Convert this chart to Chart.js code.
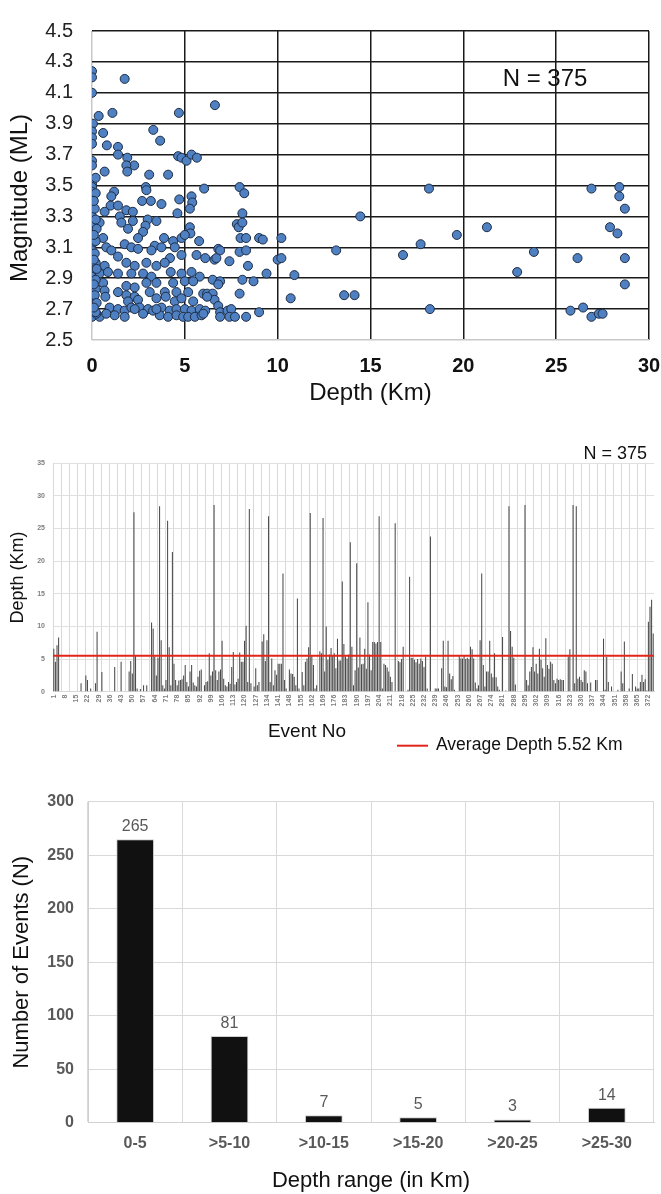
<!DOCTYPE html>
<html>
<head>
<meta charset="utf-8">
<script src="https://cdn.jsdelivr.net/npm/chart.js@4.4.1/dist/chart.umd.min.js"></script>
<style>
  body { margin: 0; background: #fff; }
  #wrap { position: relative; width: 661px; height: 1194px; }
  canvas { position: absolute; left: 0; }
</style>
</head>
<body>
<div id="wrap">
  <canvas id="scatterChart" width="661" height="420" style="top:0"></canvas>
  <canvas id="eventChart" width="661" height="350" style="top:420px"></canvas>
  <canvas id="rangeChart" width="661" height="424" style="top:770px"></canvas>
</div>
<script>
// Magnitude vs depth, [depth km, magnitude ML]
const quakes = [
  [0,4.24],[0,4.20],[1.76,4.19],[0,4.10],[0.36,3.95],[1.1,3.97],[4.68,3.97],[0.05,3.90],[0,3.85],[0.6,3.84],
  [0,3.81],[3.3,3.86],[3.67,3.79],[0,3.77],[0.8,3.76],[1.4,3.75],[1.4,3.70],[1.9,3.68],[2.27,3.63],[1.85,3.63],
  [1.9,3.59],[0,3.66],[0,3.63],[0.68,3.59],[4.64,3.69],[4.82,3.68],[5.09,3.66],[5.36,3.70],[5.65,3.68],[3.08,3.57],
  [4.1,3.57],[0,3.51],[0,3.49],[6.04,3.48],[2.9,3.49],[2.93,3.47],[1.19,3.46],[1.04,3.43],[0,3.46],[0,3.42],
  [2.7,3.40],[3.17,3.40],[3.74,3.38],[4.7,3.41],[5.36,3.43],[5.4,3.39],[5.27,3.35],[4.6,3.32],[1.0,3.37],[1.4,3.37],
  [1.85,3.34],[2.2,3.33],[0.68,3.33],[0,3.37],[0,3.34],[0,3.30],[1.5,3.30],[1.58,3.26],[2.2,3.27],[3.0,3.28],
  [3.47,3.27],[1.94,3.22],[0.41,3.26],[0,3.24],[0,3.20],[2.88,3.24],[2.75,3.20],[2.48,3.16],[5.27,3.23],[5.3,3.19],
  [0,3.16],[0.6,3.16],[0,3.12],[0,3.08],[0.77,3.10],[1.04,3.08],[1.76,3.12],[2.12,3.10],[2.48,3.09],[3.38,3.11],
  [3.88,3.16],[4.37,3.14],[4.82,3.16],[5.0,3.18],[5.77,3.14],[4.46,3.10],[3.74,3.10],[3.2,3.08],[4.2,3.03],[4.82,3.05],
  [5.63,3.05],[1.4,3.04],[1.85,3.00],[2.3,2.98],[2.93,3.00],[3.47,2.98],[3.92,3.00],[0,3.04],[0,2.98],[0,2.94],
  [0,2.91],[0.68,2.98],[0.41,2.93],[0.86,2.94],[1.4,2.93],[2.12,2.93],[2.75,2.93],[3.2,2.91],[4.24,2.94],[4.82,2.93],
  [5.36,2.94],[5.8,2.91],[0.6,2.87],[0,2.87],[0,2.84],[0,2.81],[0,2.77],[0,2.73],[0,2.70],[0,2.67],
  [0,2.65],[1.85,2.85],[2.3,2.84],[2.93,2.87],[3.47,2.87],[4.37,2.87],[5.0,2.88],[5.45,2.88],[0.68,2.82],[0.72,2.78],
  [1.4,2.81],[1.85,2.79],[2.3,2.78],[3.11,2.81],[3.92,2.81],[4.55,2.81],[5.18,2.81],[5.99,2.80],[1.94,2.75],[2.48,2.76],
  [3.47,2.77],[3.97,2.78],[4.46,2.75],[4.82,2.77],[5.45,2.75],[0.95,2.71],[1.4,2.70],[1.76,2.69],[2.12,2.71],[2.57,2.71],
  [3.02,2.70],[3.29,2.69],[3.74,2.71],[4.18,2.69],[4.55,2.70],[5.0,2.70],[5.36,2.69],[5.8,2.70],[0.41,2.65],[1.22,2.66],
  [1.76,2.65],[2.75,2.67],[3.65,2.66],[4.1,2.65],[4.55,2.66],[4.91,2.65],[5.18,2.65],[5.54,2.65],[5.9,2.66],[0.77,2.67],
  [0.23,2.67],[2.3,2.70],[3.47,2.70],
  [0.2,3.55],[0.2,3.45],[0.15,3.35],[0.2,3.28],[0.25,3.22],[0.2,3.14],[0.15,3.06],[0.2,3.00],[0.25,2.96],[0.2,2.89],
  [0.2,2.83],[0.15,2.79],[0.25,2.74],[0.2,2.68],[0.1,3.40],[0.1,3.18],[0.1,3.02],[0.1,2.86],[0.1,2.71],
  [6.62,4.02],[7.95,3.49],[8.2,3.45],[8.1,3.32],[7.8,3.25],[7.9,3.23],[8.1,3.26],[8.0,3.16],[8.3,3.16],[9.0,3.16],
  [9.2,3.15],[10.2,3.16],[6.8,3.09],[6.9,3.08],[6.1,3.03],[6.6,3.02],[6.7,3.03],[7.4,3.01],[7.95,3.07],[8.3,3.08],
  [8.4,2.98],[9.4,2.93],[10.0,3.02],[10.2,3.03],[10.9,2.92],[10.7,2.77],[6.5,2.89],[6.9,2.88],[6.8,2.86],[8.1,2.89],
  [8.7,2.88],[7.95,2.80],[6.2,2.80],[6.5,2.80],[6.6,2.76],[6.2,2.78],[6.8,2.72],[6.1,2.69],[6.9,2.68],[6.9,2.65],
  [7.3,2.69],[7.5,2.70],[7.4,2.65],[7.7,2.65],[8.3,2.65],[9.0,2.68],[6.0,2.67],
  [13.15,3.08],[13.58,2.79],[14.14,2.79],[14.45,3.30],[16.75,3.05],[17.7,3.12],[18.15,3.48],[18.2,2.70],[19.65,3.18],[21.27,3.23],
  [22.9,2.94],[23.8,3.07],[25.77,2.69],[26.15,3.03],[26.45,2.71],[26.9,3.48],[26.9,2.65],[27.3,2.67],[27.5,2.67],[27.9,3.23],
  [28.3,3.19],[28.4,3.49],[28.4,3.43],[28.7,3.35],[28.7,3.03],[28.7,2.86]
];

// Depth of each event, in event order (km)
const depthPerEvent = [
  6.6,4.6,7.1,8.3,0,0,0,0,0,0,0,0,0,0,0,0,0,1.3,0,0,2.5,1.8,0,0.5,0,
  0,1.3,9.2,0,0,3.0,0,0,0,0,0,0,0,3.8,0,0,0,4.6,0,0,0,0,3.1,4.7,2.8,
  27.5,5.6,0.5,0,0.4,0,1.0,0,1.0,0,0,10.6,9.7,5.4,2.5,5.2,28.4,7.9,1.0,0.5,1.8,26.2,6.8,1.0,21.4,
  4.3,1.8,1.0,1.7,1.8,1.9,2.5,4.1,1.5,0.8,3.1,4.1,1.4,1.0,0.8,2.3,3.2,3.4,0,1.0,1.5,1.6,5.9,2.5,3.1,
  28.6,3.3,1.8,3.1,3.4,7.8,2.0,1.0,0.8,1.5,1.2,3.8,6.1,1.1,1.5,2.0,6.0,4.6,4.6,7.8,10.1,1.5,28.0,1.3,0,
  0.8,3.6,1.0,1.5,0,7.7,8.8,4.7,7.9,26.9,1.5,5.1,1.0,3.3,2.6,4.3,4.3,4.3,18.1,1.8,0.5,0,3.4,2.8,2.7,
  2.3,1.0,14.3,0.5,0,3.0,1.0,4.6,5.1,6.8,27.4,5.6,4.1,0.5,1.0,0,6.2,5.9,26.6,3.1,10.0,4.9,5.7,6.7,5.6,
  5.9,3.6,8.1,4.8,4.8,16.9,7.3,5.4,5.1,5.7,22.9,6.9,1.0,3.3,19.7,3.7,8.3,4.2,4.3,6.6,3.5,13.7,5.7,3.3,7.6,
  7.6,7.4,7.6,26.9,7.6,0.5,4.3,4.1,3.7,3.1,2.3,1.5,0,25.8,0,4.7,4.5,5.0,6.9,0,0,0.3,17.6,5.2,5.2,
  4.9,4.5,5.0,4.3,5.1,4.7,3.8,5.4,0.5,0,23.8,0,0,0.5,0.5,0.5,0,3.6,7.8,0.8,0.7,7.8,2.8,1.9,2.4,
  0.3,0,0,5.6,5.1,5.1,5.6,5.0,5.2,5.0,6.9,6.5,5.1,1.4,0.5,1.0,7.9,18.1,4.1,0.8,3.1,3.1,7.8,2.8,2.2,
  5.9,2.2,0.8,0.3,0,8.4,0,0.2,0,28.4,9.3,6.9,5.2,1.1,0,0,0,0,0,28.6,1.8,1.0,3.1,3.8,6.8,
  3.1,4.3,2.8,6.6,4.9,3.6,2.3,8.2,4.1,3.5,4.6,4.3,1.8,1.3,2.0,1.8,1.9,1.8,1.8,0,0,5.4,6.5,0,28.6,
  1.3,28.4,2.0,2.3,1.8,1.5,3.3,3.1,1.3,0,1.4,0,0,1.8,1.8,0,0,0,8.1,0.3,5.3,1.5,0,0.8,0,
  0,0,0.3,0,3.1,1.3,7.7,0,0,0.5,0,2.7,0,0.8,0.5,0.5,1.5,2.6,1.5,1.9,0.2,10.7,13.0,14.1,8.9
];
const averageDepth = 5.52;
const eventNos = depthPerEvent.map((_, i) => String(i + 1));

// Histogram
const depthRanges = ['0-5', '>5-10', '>10-15', '>15-20', '>20-25', '>25-30'];
const eventCounts = [265, 81, 7, 5, 3, 14];

const FONT = "'Liberation Sans', Arial, sans-serif";
Chart.defaults.font.family = FONT;
Chart.defaults.animation = false;
Chart.defaults.responsive = false;
Chart.defaults.plugins.legend.display = false;
Chart.defaults.plugins.tooltip.enabled = false;

// draws a title at a free spot (Excel moved some of them off-centre)
function drawText(ctx, text, x, y, size, rotate) {
  ctx.save();
  ctx.translate(x, y);
  if (rotate) ctx.rotate(-Math.PI / 2);
  ctx.font = `${size}px ${FONT}`;
  ctx.fillStyle = '#111';
  ctx.textAlign = 'center';
  ctx.textBaseline = 'middle';
  ctx.fillText(text, 0, 0);
  ctx.restore();
}

// ---------- 1) Magnitude vs Depth ----------
const scatterExtras = {
  id: 'scatterExtras',
  afterDraw(chart) {
    const { ctx, scales } = chart;
    ctx.save();
    ctx.font = `24px ${FONT}`;
    ctx.fillStyle = '#111';
    ctx.textAlign = 'center';
    ctx.textBaseline = 'middle';
    ctx.fillText('N = 375', scales.x.getPixelForValue(24.4), scales.y.getPixelForValue(4.185));
    ctx.restore();
    drawText(ctx, 'Magnitude (ML)', 20, 198, 24, true);
  }
};

new Chart(document.getElementById('scatterChart'), {
  type: 'scatter',
  data: {
    datasets: [{
      data: quakes.map(([x, y]) => ({ x, y })),
      backgroundColor: '#4f80c2',
      borderColor: '#1d2c44',
      borderWidth: 1,
      pointRadius: 4.5
    }]
  },
  options: {
    layout: { padding: { top: 20, right: 12, left: 0, bottom: 0 } },
    scales: {
      x: {
        type: 'linear', min: 0, max: 30,
        ticks: { stepSize: 5, padding: 14, color: '#111', font: { size: 20, weight: 'bold' } },
        grid: { color: c => (c.tick && c.tick.value === 0) ? '#c8c8c8' : '#1a1a1a', lineWidth: 1.5, drawTicks: false },
        border: { display: false },
        title: { display: true, text: 'Depth (Km)', color: '#111', font: { size: 24 }, padding: { top: 0, bottom: 12 } },
        afterFit: s => { s.height = 80; s.paddingLeft = 0; s.paddingRight = 0; }
      },
      y: {
        min: 2.5, max: 4.5,
        ticks: { stepSize: 0.2, padding: 19, color: '#222', font: { size: 20 }, callback: v => v.toFixed(1) },
        grid: { color: c => (c.tick && c.tick.value === 2.5) ? '#c8c8c8' : '#1a1a1a', lineWidth: 1.5, drawTicks: false },
        border: { display: false },
        afterFit: s => { s.width = 92; }
      }
    }
  },
  plugins: [scatterExtras]
});

// ---------- 2) Depth per event ----------
const averageLine = {
  id: 'averageLine',
  afterDatasetsDraw(chart) {
    const { ctx, chartArea, scales } = chart;
    const y = scales.y.getPixelForValue(averageDepth);
    ctx.save();
    ctx.strokeStyle = '#e3241b';
    ctx.lineWidth = 2;
    ctx.beginPath();
    ctx.moveTo(chartArea.left, y);
    ctx.lineTo(chartArea.right, y);
    ctx.stroke();

    ctx.fillStyle = '#111';
    ctx.font = `18px ${FONT}`;
    ctx.textAlign = 'right';
    ctx.textBaseline = 'middle';
    ctx.fillText('N = 375', chartArea.right - 7, chartArea.top - 9);

    // legend
    const ly = chartArea.bottom + 54;
    ctx.beginPath();
    ctx.moveTo(397, ly);
    ctx.lineTo(428, ly);
    ctx.stroke();
    ctx.textAlign = 'left';
    ctx.font = `17.5px ${FONT}`;
    ctx.fillText(`Average Depth ${averageDepth} Km`, 436, ly - 1);
    ctx.restore();

    drawText(ctx, 'Event No', 307, chartArea.bottom + 40, 19, false);
  }
};

new Chart(document.getElementById('eventChart'), {
  type: 'bar',
  data: {
    labels: eventNos,
    datasets: [{
      data: depthPerEvent,
      backgroundColor: '#4a4a4a',
      barPercentage: 0.65,
      categoryPercentage: 1
    }]
  },
  options: {
    layout: { padding: { top: 43.3, right: 7, left: 0, bottom: 0 } },
    scales: {
      x: {
        ticks: {
          autoSkip: false, maxRotation: 90, minRotation: 90, padding: 3,
          color: '#7f7f7f', font: { size: 7, weight: 'bold' },
          callback: function (value, index) { return index % 7 === 0 ? this.getLabelForValue(value) : ''; }
        },
        grid: { color: c => c.index % 5 === 0 ? '#d9d9d9' : 'rgba(0,0,0,0)', drawTicks: false },
        border: { color: '#d9d9d9' },
        afterFit: s => { s.height = 78.3; s.paddingLeft = 0; s.paddingRight = 0; }
      },
      y: {
        min: 0, max: 35,
        ticks: { stepSize: 5, padding: 8, color: '#7f7f7f', font: { size: 7, weight: 'bold' } },
        grid: { color: '#e0e0e0', drawTicks: false },
        border: { color: '#d9d9d9' },
        title: { display: true, text: 'Depth (Km)', color: '#111', font: { size: 18 }, padding: { top: 7.7 } },
        afterFit: s => { s.width = 53; }
      }
    }
  },
  plugins: [averageLine]
});

// ---------- 3) Number of events per depth range ----------
const barValueLabels = {
  id: 'barValueLabels',
  afterDatasetsDraw(chart) {
    const { ctx } = chart;
    const meta = chart.getDatasetMeta(0);
    ctx.save();
    ctx.font = `16px ${FONT}`;
    ctx.fillStyle = '#595959';
    ctx.textAlign = 'center';
    ctx.textBaseline = 'alphabetic';
    meta.data.forEach((bar, i) => ctx.fillText(eventCounts[i], bar.x, bar.y - 8));
    ctx.restore();
  }
};

new Chart(document.getElementById('rangeChart'), {
  type: 'bar',
  data: {
    labels: depthRanges,
    datasets: [{
      data: eventCounts,
      backgroundColor: '#111',
      borderColor: '#cfcfcf',
      borderWidth: 1,
      barPercentage: 0.4,
      categoryPercentage: 1
    }]
  },
  options: {
    layout: { padding: { top: 31.7, right: 7, left: 0, bottom: 0 } },
    scales: {
      x: {
        ticks: { padding: 11, color: '#595959', font: { size: 16, weight: 'bold' } },
        grid: { color: '#d9d9d9', drawTicks: false },
        border: { color: '#d0d0d0' },
        title: { display: true, text: 'Depth range (in Km)', color: '#111', font: { size: 22 }, padding: { top: 0, bottom: 0 } },
        afterFit: s => { s.height = 71.3; }
      },
      y: {
        min: 0, max: 300,
        ticks: { stepSize: 50, padding: 14, color: '#595959', font: { size: 16, weight: 'bold' } },
        grid: { color: '#d9d9d9', drawTicks: false },
        border: { color: '#d0d0d0' },
        title: { display: true, text: 'Number of Events (N)', color: '#111', font: { size: 22 }, padding: { top: 8.8 } },
        afterFit: s => { s.width = 88; }
      }
    }
  },
  plugins: [barValueLabels]
});
</script>
</body>
</html>
